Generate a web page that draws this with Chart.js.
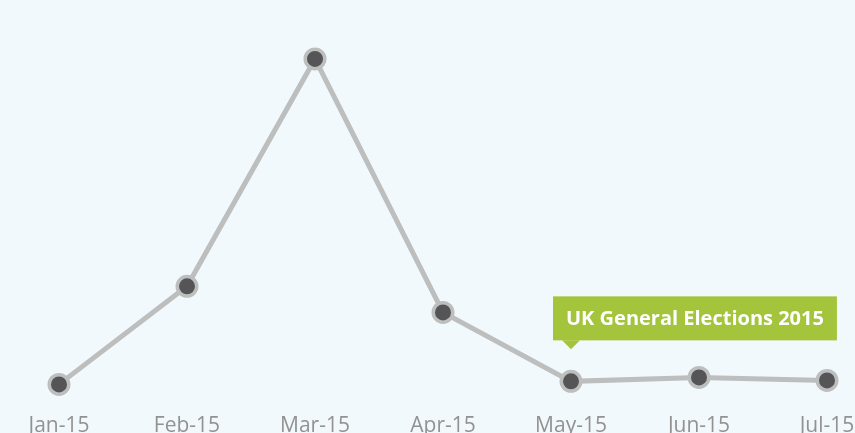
<!DOCTYPE html>
<html>
<head>
<meta charset="utf-8">
<script src="https://cdn.jsdelivr.net/npm/chart.js@4/dist/chart.umd.min.js"></script>
<style>
  html, body { margin: 0; padding: 0; overflow: hidden; background: #f2f9fc; }
  #wrap { position: absolute; left: 0; top: 0; width: 880px; height: 447px; }
</style>
</head>
<body>
<div id="wrap"><canvas id="chart"></canvas></div>
<script>
// months and index values
var months = ['Jan-15', 'Feb-15', 'Mar-15', 'Apr-15', 'May-15', 'Jun-15', 'Jul-15'];
var values = [3.55, 29.5, 89.7, 22.6, 4.35, 5.4, 4.6];
var noteIndex = 4;
var noteText = 'UK General Elections 2015';

var notePlugin = {
  id: 'note',
  afterDatasetsDraw: function(chart) {
    var ctx = chart.ctx;
    var pt = chart.getDatasetMeta(0).data[noteIndex];
    var x = pt.x, y = pt.y;
    ctx.save();
    ctx.font = 'bold 20px "Open Sans"';
    var w = ctx.measureText(noteText).width + 26;
    var left = x - 18, top = y - 85, h = 44;
    ctx.fillStyle = '#a3c43b';
    ctx.fillRect(left, top, w, h);
    ctx.beginPath();
    ctx.moveTo(x - 9, top + h);
    ctx.lineTo(x + 9, top + h);
    ctx.lineTo(x, top + h + 9);
    ctx.closePath();
    ctx.fill();
    ctx.fillStyle = '#ffffff';
    ctx.textBaseline = 'middle';
    ctx.fillText(noteText, left + 13, top + h / 2 + 1);
    ctx.restore();
  }
};

new Chart(document.getElementById('chart'), {
  type: 'line',
  data: {
    labels: months,
    datasets: [{
      data: values,
      borderColor: '#bdbebe',
      borderWidth: 5,
      pointRadius: 9.75,
      pointHoverRadius: 9.75,
      pointBorderWidth: 3.5,
      pointBackgroundColor: '#555557',
      pointBorderColor: '#bdbebe',
      tension: 0
    }]
  },
  options: {
    responsive: true,
    maintainAspectRatio: false,
    animation: false,
    layout: { padding: { left: 59, right: 53, top: 20, bottom: 0 } },
    plugins: { legend: { display: false }, tooltip: { enabled: false } },
    scales: {
      x: {
        grid: { display: false },
        border: { display: false },
        ticks: { color: '#929292', font: { family: 'Open Sans', size: 21 }, padding: 8, maxRotation: 0 }
      },
      y: {
        display: false,
        min: 0,
        max: 100
      }
    }
  },
  plugins: [notePlugin]
});
</script>
</body>
</html>
